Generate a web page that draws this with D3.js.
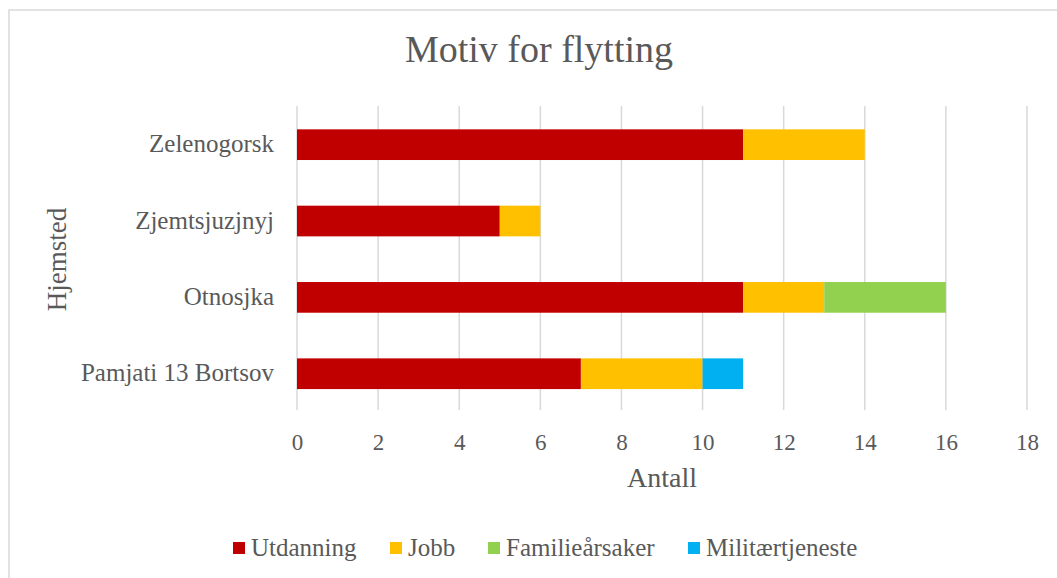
<!DOCTYPE html>
<html><head><meta charset="utf-8">
<script src="https://cdn.jsdelivr.net/npm/d3@7"></script>
<style>body{margin:0;background:#fff}svg{display:block}text{font-family:"Liberation Serif","DejaVu Serif",serif;fill:#595959}</style>
</head><body>
<script>
const categories = ["Zelenogorsk", "Zjemtsjuzjnyj", "Otnosjka", "Pamjati 13 Bortsov"];
const seriesNames = ["Utdanning", "Jobb", "Familieårsaker", "Militærtjeneste"];
const utdanning = [11, 5, 11, 7];
const jobb = [3, 1, 2, 3];
const familie = [0, 0, 3, 0];
const militaer = [0, 0, 0, 1];
const colors = ["#C00000", "#FFC000", "#92D050", "#00B0F0"];
const xTicks = [0, 2, 4, 6, 8, 10, 12, 14, 16, 18];

const W = 1057, H = 578;
const svg = d3.select("body").append("svg").attr("width", W).attr("height", H);
svg.append("rect").attr("x", 9).attr("y", 10).attr("width", W).attr("height", H)
  .attr("fill", "#fff").attr("stroke", "#d9d9d9").attr("stroke-width", 1.5);

const rows = categories.map((c, i) => ({cat: c, Utdanning: utdanning[i], Jobb: jobb[i], "Familieårsaker": familie[i], "Militærtjeneste": militaer[i]}));
const stack = d3.stack().keys(seriesNames)(rows);

const x = d3.scaleLinear().domain([0, 18]).range([297, 1027]);
const y = d3.scaleBand().domain(categories).range([106.5, 411.9]).paddingInner(0.598).paddingOuter(0.299);

// gridlines
svg.append("g").selectAll("line").data(xTicks).join("line")
  .attr("x1", d => x(d)).attr("x2", d => x(d)).attr("y1", 106).attr("y2", 410)
  .attr("stroke", "#d9d9d9").attr("stroke-width", 1.5);

svg.append("g").selectAll("g").data(stack).join("g")
  .attr("fill", (d, i) => colors[i])
  .selectAll("rect").data(d => d).join("rect")
  .attr("x", d => x(d[0])).attr("width", d => x(d[1]) - x(d[0]))
  .attr("y", d => y(d.data.cat)).attr("height", y.bandwidth());

// x axis labels
const xa = svg.append("g").attr("transform", "translate(0,411)")
  .call(d3.axisBottom(x).tickValues(xTicks).tickSize(0).tickPadding(0));
xa.select(".domain").remove();
xa.selectAll("text").attr("dy", null).attr("y", 39).style("font-size", "23px").style("font-family", '"Liberation Serif",serif').attr("fill", "#595959");

// y axis labels
const ya = svg.append("g").attr("transform", "translate(297,0)")
  .call(d3.axisLeft(y).tickSize(0).tickPadding(23));
ya.select(".domain").remove();
ya.selectAll("text").attr("dy", "0.3em").style("font-size", "25px").style("font-family", '"Liberation Serif",serif').attr("fill", "#595959");

svg.append("text").attr("x", 539).attr("y", 62).attr("text-anchor", "middle").style("font-size", "38px").text("Motiv for flytting");
svg.append("text").attr("x", 662).attr("y", 487).attr("text-anchor", "middle").style("font-size", "28px").text("Antall");
svg.append("text").attr("transform", "translate(66,259.5) rotate(-90)").attr("text-anchor", "middle").style("font-size", "27px").text("Hjemsted");

// legend
const legX = [233, 390, 488, 688];
const lg = svg.append("g").selectAll("g").data(seriesNames).join("g")
  .attr("transform", (d, i) => `translate(${legX[i]},542)`);
lg.append("rect").attr("width", 12).attr("height", 12).attr("fill", (d, i) => colors[i]);
lg.append("text").attr("x", 18).attr("y", 14).style("font-size", "25px").text(d => d);
</script>
</body></html>
